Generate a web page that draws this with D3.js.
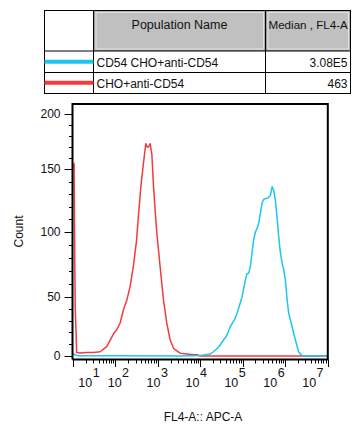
<!DOCTYPE html>
<html><head><meta charset="utf-8">
<script src="https://cdn.jsdelivr.net/npm/d3@7"></script>
<style>body{margin:0;background:#fff} svg{display:block;font-family:Arial,"Liberation Sans",sans-serif}</style>
</head><body><svg width="364" height="433"></svg>
<script>
// ---- data ----
const populations = ["CD54 CHO+anti-CD54", "CHO+anti-CD54"];
const medians = ["3.08E5", "463"];
const popColors = ["#1ec5f2", "#f53a3a"];
const tableHeaders = ["Population Name", "Median , FL4-A"];
const xTitle = "FL4-A:: APC-A";
const yTitle = "Count";
const xTickExponents = [1, 2, 3, 4, 5, 6, 7];
const yTickValues = [0, 50, 100, 150, 200];

// CHO+anti-CD54 (red) : FL4-A intensity and count
const redX = [10.3, 10.6, 11.0, 11.3, 11.8, 12.2, 14.6, 20.3, 30.2, 43.5, 62.5, 82, 93, 107, 129, 154, 186, 222, 263, 316, 347, 398, 457, 521, 560, 603, 661, 724, 789, 865, 948, 1135, 1358, 1622, 1950, 2344, 3388, 6918, 8511, 10000, 1e7];
const redY = [150, 155, 78, 40, 20, 3, 2.5, 3, 3, 3.6, 8, 16, 19.5, 22, 28, 39, 47.5, 58, 73, 94, 112, 136, 155, 173, 170, 170, 173, 163, 137, 117, 99, 73, 47.5, 28, 13.6, 6.5, 2.3, 1, 1, 0, 0];

// CD54 CHO+anti-CD54 (blue)
const blueX = [10.1, 11, 13, 100, 3388, 10000, 17220, 20610, 26920, 35480, 42660, 51170, 67140, 80350, 96600, 115600, 125900, 138000, 151400, 166000, 182000, 199500, 218800, 238800, 261800, 287100, 313300, 389000, 450800, 494300, 539500, 591600, 645700, 707900, 776200, 851100, 929000, 1019000, 1117000, 1219000, 1337000, 1466000, 1600000, 1754000, 1928000, 2089000, 2399000, 2754000, 1e7];
const blueY = [2, 1, 0.3, 0.3, 0, 0.5, 1.7, 3.6, 7.4, 13.6, 17.8, 24.8, 32, 40.4, 50, 63, 68, 68, 73, 84, 94, 100, 103, 107, 115, 123, 126, 127, 129, 136, 133, 125, 112, 96, 84, 76, 71, 63, 47.5, 36, 30.5, 25, 19, 13.6, 8, 3.6, 0.8, 0, 0];

// ---- drawing ----
const svg = d3.select("svg");
const x = d3.scaleLog().domain([10, 1e7]).range([73, 327.5]);
const y = d3.scaleLinear().domain([0, 50, 100, 150, 200, 209]).range([356, 297, 232, 169, 114, 104]);

// table
const T = {l: 44.5, r: 350.5, t: 10.5, b: 93.5, c1: 93.5, c2: 265.5, h: 51, r1: 72.5};
const tg = svg.append("g");
// header grey cells
[[T.c1 + 1, T.c2 - 0.5], [T.c2 + 1, T.r - 0.5]].forEach(([a, b], i) => {
  tg.append("rect").attr("x", a).attr("y", T.t + 0.5).attr("width", b - a).attr("height", T.h - T.t - 1)
    .attr("fill", "#c0c0c0").attr("stroke", "#9a9a9a").attr("stroke-width", 1);
  tg.append("rect").attr("x", a + 1.5).attr("y", T.t + 2).attr("width", b - a - 3).attr("height", T.h - T.t - 4)
    .attr("fill", "none").attr("stroke", "#e2e2e2").attr("stroke-width", 1);
});
tg.append("rect").attr("x", T.l).attr("y", T.t).attr("width", T.r - T.l).attr("height", T.b - T.t)
  .attr("fill", "none").attr("stroke", "#000");
[[T.c1, T.t, T.c1, T.b], [T.c2, T.t, T.c2, T.b], [T.l, T.h, T.r, T.h], [T.l, T.r1, T.r, T.r1]].forEach(s => {
  tg.append("line").attr("x1", s[0]).attr("y1", s[1]).attr("x2", s[2]).attr("y2", s[3]).attr("stroke", "#000");
});
tg.append("text").attr("x", (T.c1 + T.c2) / 2).attr("y", 28.5).attr("text-anchor", "middle")
  .attr("font-size", 12.5).attr("fill", "#111").text(tableHeaders[0]);
tg.append("text").attr("x", T.c2 + 3).attr("y", 28.5).attr("font-size", 11.6).attr("fill", "#111").text(tableHeaders[1]);
const rowBase = [66.5, 87.8];
const rowMid = [61.8, 82.8];
populations.forEach((p, i) => {
  tg.append("line").attr("x1", T.l).attr("x2", T.c1).attr("y1", rowMid[i]).attr("y2", rowMid[i])
    .attr("stroke", popColors[i]).attr("stroke-width", 4);
  tg.append("text").attr("x", T.c1 + 3).attr("y", rowBase[i]).attr("font-size", 12).attr("fill", "#111").text(p);
  tg.append("text").attr("x", T.r - 3).attr("y", rowBase[i]).attr("font-size", 12).attr("text-anchor", "end")
    .attr("fill", "#111").text(medians[i]);
});

// histograms (red first, blue on top)
const line = d3.line().x(d => x(d[0])).y(d => y(d[1]));
const plot = svg.append("g");
plot.append("path").datum(d3.zip(redX, redY)).attr("d", line).attr("fill", "none")
  .attr("stroke", popColors[1]).attr("stroke-width", 1.5).attr("stroke-linejoin", "round");
plot.append("path").datum(d3.zip(blueX, blueY)).attr("d", line).attr("fill", "none")
  .attr("stroke", popColors[0]).attr("stroke-width", 1.5).attr("stroke-linejoin", "round");

// frame
const F = {l: 72.5, r: 327.8, t: 104, b: 359.5};
svg.append("path").attr("d", `M${F.l},${F.b}V${F.t}H${F.r}V${F.b}H${F.l}`)
  .attr("fill", "none").attr("stroke", "#000").attr("stroke-width", 2);

// x ticks
const xt = [];
for (let e = 1; e < 7; e++) for (let m = 1; m <= 9; m++) xt.push({v: m * Math.pow(10, e), major: m === 1});
xt.push({v: 1e7, major: true});
svg.append("g").selectAll("line").data(xt).join("line")
  .attr("x1", d => Math.round(x(d.v)) + 0.5).attr("x2", d => Math.round(x(d.v)) + 0.5)
  .attr("y1", F.b).attr("y2", d => d.major ? F.b + 7.5 : F.b + 4)
  .attr("stroke", "#000").attr("stroke-width", 1);

// x labels
const labelPos = d3.scaleLinear().domain([2, 7]).range([107.7, 302.2]);
const xl = svg.append("g").selectAll("text").data(xTickExponents).join("text")
  .attr("x", e => Math.max(labelPos(e), 78.3)).attr("y", 386.5).attr("font-size", 12.5).attr("fill", "#111");
xl.append("tspan").text("10");
xl.append("tspan").attr("dy", -10).attr("dx", 0.5).text(e => e);

// y ticks
const yt = d3.range(0, 201, 10);
svg.append("g").selectAll("line").data(yt).join("line")
  .attr("y1", v => Math.round(y(v)) + 0.5).attr("y2", v => Math.round(y(v)) + 0.5)
  .attr("x1", v => v % 50 === 0 ? 64.5 : 69).attr("x2", F.l)
  .attr("stroke", "#000").attr("stroke-width", 1);
svg.append("g").selectAll("text").data(yTickValues).join("text")
  .attr("x", 60.5).attr("y", v => y(v)).attr("dy", "0.36em").attr("text-anchor", "end")
  .attr("font-size", 12).attr("fill", "#111").text(v => v);

// titles
svg.append("text").attr("transform", "translate(23,231.5) rotate(-90)").attr("text-anchor", "middle")
  .attr("font-size", 12).attr("fill", "#111").text(yTitle);
svg.append("text").attr("x", 203).attr("y", 421).attr("text-anchor", "middle")
  .attr("font-size", 12).attr("fill", "#111").text(xTitle);
</script>
</body></html>
